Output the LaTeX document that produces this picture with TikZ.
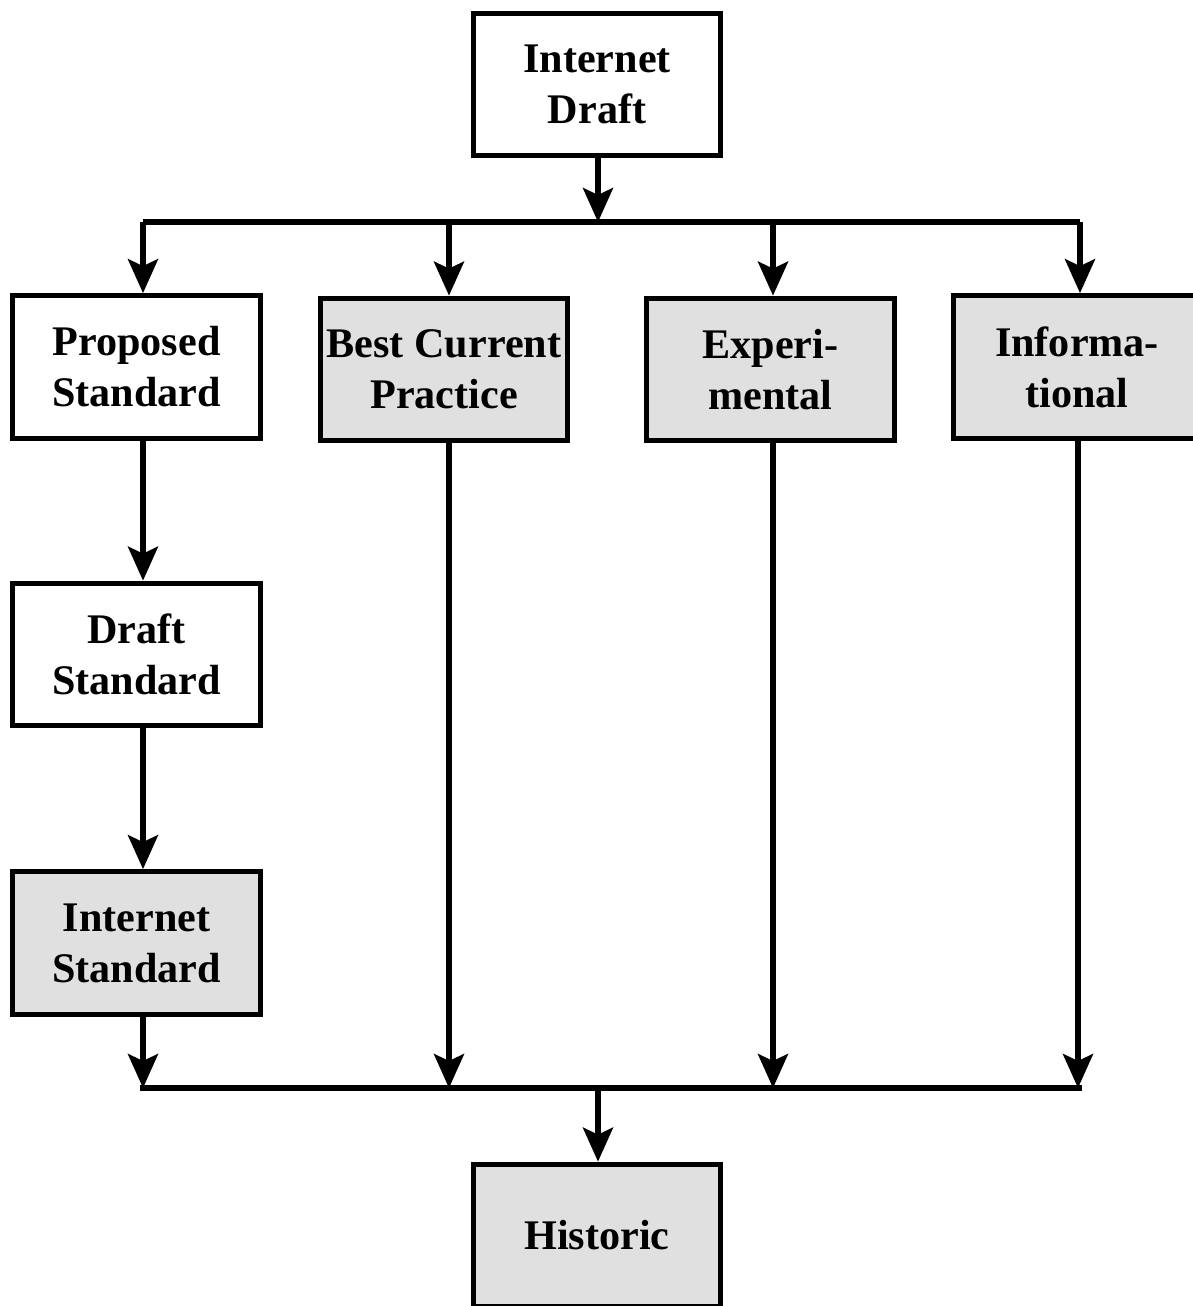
\documentclass[tikz,border=0pt]{standalone}
\usepackage{fontspec}
\setmainfont{Liberation Serif}
\usetikzlibrary{arrows.meta}
\usetikzlibrary{calc}
\definecolor{boxgrey}{gray}{0.88}
\tikzset{
	stdbox/.style={shape=rectangle,draw,line width=3pt,minimum width=4.95cm,minimum height=2.85cm,inner sep=2pt,align=center,font=\bfseries\fontsize{24}{29}\selectfont},
	greybox/.style={stdbox,fill=boxgrey},
	flow/.style={line width=3.1pt,-{Stealth[length=0.68cm,width=0.6cm,inset=0.14cm]}},
	bar/.style={line width=2.9pt}
}
\begin{document}
\begin{tikzpicture}[x=0.02cm,y=-0.02cm]
	\useasboundingbox (0,0) rectangle (1193,1306);
	\node (idraft) [stdbox] at (597,84.5) {Internet\\Draft};
	\node (prop) [stdbox] at (136.5,367) {Proposed\\Standard};
	\node (bcp) [greybox] at (444,369.5) {Best Current\\Practice};
	\node (exper) [greybox] at (770.5,369.5) {Experi-\\mental};
	\node (inform) [greybox] at (1077,367) {Informa-\\tional};
	\node (dstd) [stdbox] at (136.5,654.5) {Draft\\Standard};
	\node (istd) [greybox] at (136.5,943) {Internet\\Standard};
	\node (hist) [greybox] at (597,1235.5) {Historic};
	% top bar
	\coordinate (tm) at (598,222);
	\coordinate (t1) at (143,222);
	\coordinate (t2) at (449,222);
	\coordinate (t3) at (773,222);
	\coordinate (t4) at (1080,222);
	\draw[bar] (t1) -- (t4);
	\draw[flow] (idraft.south -| tm) -- (tm);
	\draw[flow] (t1) -- (t1 |- prop.north);
	\draw[flow] (t2) -- (t2 |- bcp.north);
	\draw[flow] (t3) -- (t3 |- exper.north);
	\draw[flow] (t4) -- (t4 |- inform.north);
	% standards track
	\draw[flow] (prop.south -| t1) -- (t1 |- dstd.north);
	\draw[flow] (dstd.south -| t1) -- (t1 |- istd.north);
	% bottom bar
	\coordinate (bm) at (598,1088);
	\coordinate (b1) at (143,1088);
	\coordinate (b2) at (449,1088);
	\coordinate (b3) at (773,1088);
	\coordinate (b4) at (1078,1088);
	\draw[bar] ($(b1)+(-3,0)$) -- ($(b4)+(4,0)$);
	\draw[flow] (istd.south -| b1) -- (b1);
	\draw[flow] (bcp.south -| b2) -- (b2);
	\draw[flow] (exper.south -| b3) -- (b3);
	\draw[flow] (inform.south -| b4) -- (b4);
	\draw[flow] (bm) -- (bm |- hist.north);
\end{tikzpicture}
\end{document}
